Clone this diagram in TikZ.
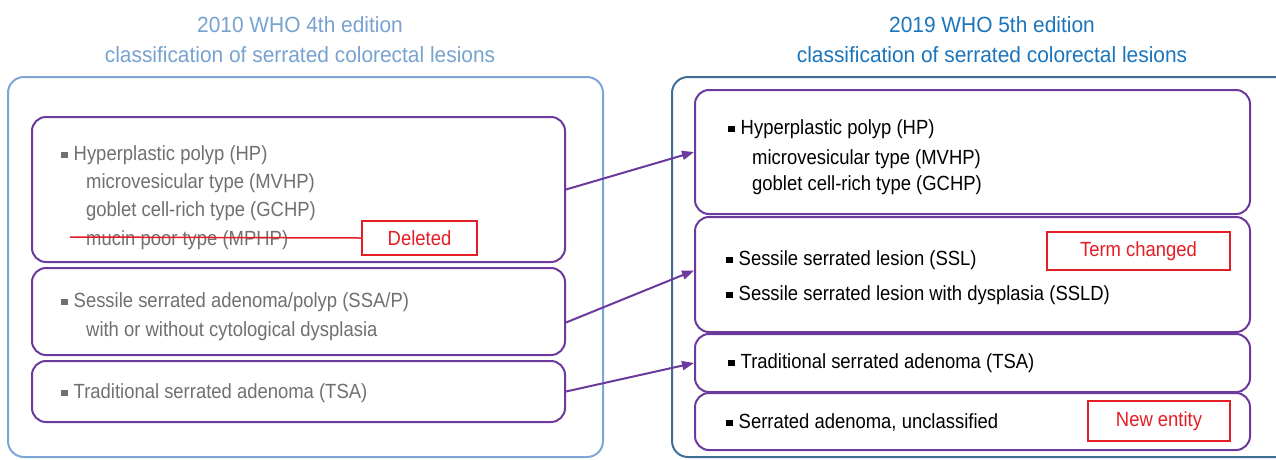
\documentclass[tikz,border=0pt]{standalone}
\usepackage{fontspec}
\setmainfont{Liberation Sans}[FakeStretch=0.9]
\newfontfamily\headfont{Liberation Sans}[FakeStretch=0.95]
\usepackage{tikz}
\usetikzlibrary{arrows.meta,shapes}

\definecolor{oldframe}{RGB}{126,166,212}
\definecolor{newframe}{RGB}{62,110,150}
\definecolor{oldtitle}{RGB}{120,162,208}
\definecolor{newtitle}{RGB}{27,117,188}
\definecolor{lesion}{RGB}{108,58,156}
\definecolor{oldtext}{RGB}{112,112,112}
\definecolor{note}{RGB}{228,30,38}

\newcommand{\sqb}{\rule[2pt]{6.5pt}{6.5pt}\hspace{6pt}}

\tikzset{
  frame/.style={draw,line width=2pt,rounded corners=16pt},
  lesionbox/.style={draw=lesion,line width=2pt,rounded corners=14pt,rectangle,inner sep=0pt},
  notebox/.style={draw=note,line width=1.5pt,text=note,inner sep=0pt,font=\fontsize{20.5}{24}\selectfont},
  item/.style={anchor=base west,inner sep=0pt,font=\fontsize{20.5}{24}\selectfont},
  title/.style={align=center,font=\headfont\fontsize{22}{30}\selectfont},
  link/.style={-{Triangle[length=12pt,width=9pt]},draw=lesion,line width=2pt}
}

\begin{document}
\begin{tikzpicture}[x=1pt,y=-1pt]
\clip (0,0) rectangle (1276,459);
\fill[white] (0,0) rectangle (1276,459);

% titles
\node (t2010) at (300,40)[title,text=oldtitle] {2010 WHO 4th edition\\classification of serrated colorectal lesions};
\node (t2019) at (992,40)[title,text=newtitle] {2019 WHO 5th edition\\classification of serrated colorectal lesions};

% outer frames
\draw[frame,draw=oldframe] (8,77) rectangle (603,457);
\draw[frame,draw=newframe] (672,77) rectangle (1292,457);

% 2010 lesions
\node (old1) at (298.5,189.5)[lesionbox,minimum width=533pt,minimum height=145pt] {};
\node (old2) at (298.5,311.5)[lesionbox,minimum width=533pt,minimum height=87pt] {};
\node (old3) at (298.5,391.5)[lesionbox,minimum width=533pt,minimum height=61pt] {};

\node (o1a) at (61,160)[item,text=oldtext] {\sqb Hyperplastic polyp (HP)};
\node (o1b) at (86,188)[item,text=oldtext] {microvesicular type (MVHP)};
\node (o1c) at (86,216)[item,text=oldtext] {goblet cell-rich type (GCHP)};
\node (o1d) at (86,245)[item,text=oldtext] {mucin poor type (MPHP)};
\node (del) at (419.5,238)[notebox,minimum width=115pt,minimum height=34pt] {Deleted};
\draw[note,line width=1.5pt] (70,237) -- (del.west);

\node (o2a) at (61,307)[item,text=oldtext] {\sqb Sessile serrated adenoma/polyp (SSA/P)};
\node (o2b) at (86,336)[item,text=oldtext] {with or without cytological dysplasia};

\node (o3a) at (61,398)[item,text=oldtext] {\sqb Traditional serrated adenoma (TSA)};

% 2019 lesions
\node (new1) at (972.5,152)[lesionbox,minimum width=555pt,minimum height=124pt] {};
\node (new2) at (972.5,274.5)[lesionbox,minimum width=555pt,minimum height=115pt] {};
\node (new3) at (972.5,363)[lesionbox,minimum width=555pt,minimum height=58pt] {};
\node (new4) at (972.5,421.5)[lesionbox,minimum width=555pt,minimum height=57pt] {};

\node (n1a) at (728,134)[item] {\sqb Hyperplastic polyp (HP)};
\node (n1b) at (752,164)[item] {microvesicular type (MVHP)};
\node (n1c) at (752,190)[item] {goblet cell-rich type (GCHP)};

\node (n2a) at (726,265)[item] {\sqb Sessile serrated lesion (SSL)};
\node (n2b) at (726,300)[item] {\sqb Sessile serrated lesion with dysplasia (SSLD)};
\node (chg) at (1138.5,251)[notebox,minimum width=183pt,minimum height=38pt] {Term changed};

\node (n3a) at (728,368)[item] {\sqb Traditional serrated adenoma (TSA)};

\node (n4a) at (726,428)[item] {\sqb Serrated adenoma, unclassified};
\node (ent) at (1159,421)[notebox,minimum width=142pt,minimum height=40pt] {New entity};

% arrows
\draw[link] (old1.east) -- (new1.west);
\draw[link] ([yshift=-11pt]old2.east) -- ([yshift=4pt]new2.west);
\draw[link] (old3.east) -- (new3.west);
\end{tikzpicture}
\end{document}
